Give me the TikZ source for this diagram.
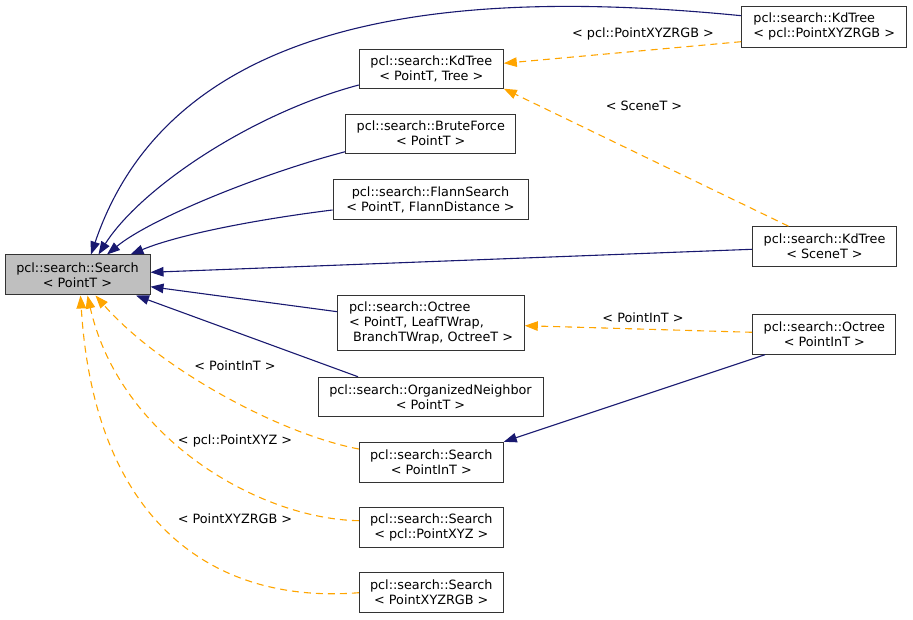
\documentclass[tikz,border=0pt]{standalone}
\usepackage{fontspec}
\setmainfont{DejaVu Sans}
\usetikzlibrary{arrows.meta}
\definecolor{navyc}{HTML}{191970}
\definecolor{orangec}{HTML}{FFA500}
\definecolor{boxline}{HTML}{333333}
\definecolor{mainfill}{HTML}{BFBFBF}
\begin{document}
\begin{tikzpicture}[x=1pt,y=1pt,
  cls/.style={draw=boxline, line width=1pt, fill=white, inner sep=0pt, align=center, font=\fontsize{12.8}{15}\selectfont},
  clsl/.style={cls, align=left},
  lbl/.style={inner sep=0pt, font=\fontsize{12.8}{15}\selectfont},
  inh/.style={draw=navyc, line width=1.1pt, -{Triangle[length=13pt,width=9.5pt]}},
  tpl/.style={draw=orangec, line width=1.1pt, dash pattern=on 7pt off 5pt, -{Triangle[length=13pt,width=9.5pt]}}
]
\useasboundingbox (0,0) rectangle (913,619);

\node[cls, fill=mainfill, minimum width=145, minimum height=40] (search) at (77.5,344) {pcl::search::Search\\< PointT >};
\node[cls, minimum width=144, minimum height=39] (kdpt) at (431.3,550.3) {pcl::search::KdTree\\< PointT, Tree >};
\node[cls, minimum width=170, minimum height=39] (brute) at (430.8,485.3) {pcl::search::BruteForce\\< PointT >};
\node[cls, minimum width=195, minimum height=40] (flann) at (430.5,419) {pcl::search::FlannSearch\\< PointT, FlannDistance >};
\node[clsl, minimum width=186.6, minimum height=55] (octpt) at (431,296) {pcl::search::Octree\\< PointT, LeafTWrap,\\{}\ BranchTWrap, OctreeT >};
\node[cls, minimum width=225, minimum height=39.5] (orgn) at (430.5,222) {pcl::search::OrganizedNeighbor\\< PointT >};
\node[cls, minimum width=144, minimum height=40] (srchin) at (431.3,156.7) {pcl::search::Search\\< PointInT >};
\node[cls, minimum width=144, minimum height=40] (srchxyz) at (431.3,91.5) {pcl::search::Search\\< pcl::PointXYZ >};
\node[cls, minimum width=144, minimum height=40] (srchrgb) at (431.3,26.3) {pcl::search::Search\\< PointXYZRGB >};
\node[clsl, minimum width=165, minimum height=41] (kdrgb) at (824.2,592.3) {pcl::search::KdTree\\< pcl::PointXYZRGB >};
\node[cls, minimum width=144, minimum height=40] (kdscene) at (824.5,372.3) {pcl::search::KdTree\\< SceneT >};
\node[cls, minimum width=143.3, minimum height=40] (octin) at (824.3,284.8) {pcl::search::Octree\\< PointInT >};

% inheritance (navy)
\draw[inh] ([yshift=11pt]kdrgb.west) .. controls (470,630) and (175,612) .. ([xshift=13.5pt]search.north);
\draw[inh] ([yshift=-16.3pt]kdpt.west) .. controls (250,505) and (140,430) .. ([xshift=21pt]search.north);
\draw[inh] ([yshift=-18pt]brute.west) .. controls (260,445) and (150,400) .. ([xshift=29.5pt]search.north);
\draw[inh] ([yshift=-10pt]flann.west) .. controls (260,400) and (180,385) .. ([xshift=53pt]search.north);
\draw[inh] ([yshift=-2.6pt]kdscene.west) -- ([yshift=2.7pt]search.east);
\draw[inh] ([yshift=11.3pt]octpt.west) -- ([yshift=-11.7pt]search.east);
\draw[inh] ([xshift=-72.5pt]orgn.north) -- ([xshift=58.5pt]search.south);
\draw[inh] ([xshift=-59.3pt]octin.south) -- (srchin.north east);

% template instantiation (orange dashed)
\draw[tpl] ([yshift=-15pt]kdrgb.west) -- ([yshift=5.4pt]kdpt.east);
\draw[tpl] ([xshift=-36pt]kdscene.north) -- (kdpt.south east);
\draw[tpl] ([yshift=1.9pt]octin.west) -- ([yshift=-2.7pt]octpt.east);
\draw[tpl] ([yshift=13.3pt]srchin.west) .. controls (280,185) and (160,250) .. ([xshift=18pt]search.south);
\draw[tpl] ([yshift=6.8pt]srchxyz.west) .. controls (260,100) and (120,180) .. ([xshift=10pt]search.south);
\draw[tpl] (srchrgb.west) .. controls (220,15) and (95,90) .. ([xshift=3pt]search.south);

\node[lbl] (l1) at (643,585) {< pcl::PointXYZRGB >};
\node[lbl] (l2) at (644,513.3) {< SceneT >};
\node[lbl] (l3) at (643,301) {< PointInT >};
\node[lbl] (l4) at (235,253) {< PointInT >};
\node[lbl] (l5) at (235,178) {< pcl::PointXYZ >};
\node[lbl] (l6) at (235,100) {< PointXYZRGB >};
\end{tikzpicture}
\end{document}
